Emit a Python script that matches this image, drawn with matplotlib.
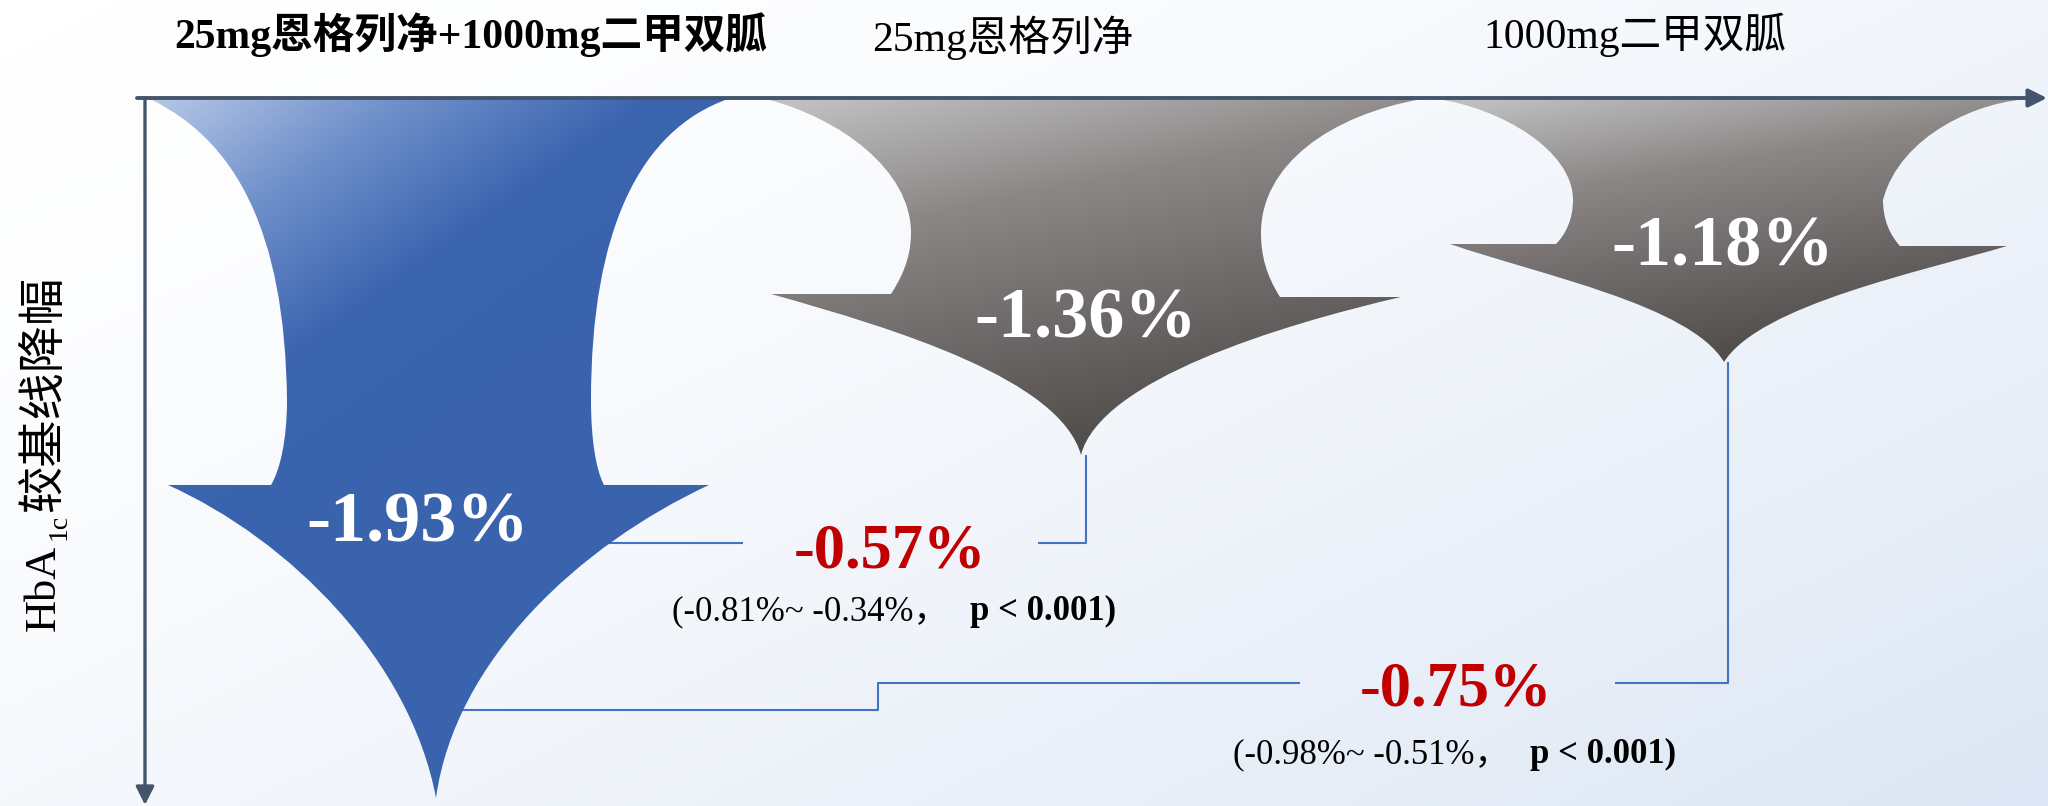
import matplotlib.pyplot as plt
import numpy as np
from matplotlib.path import Path
from matplotlib.patches import PathPatch
from matplotlib.colors import LinearSegmentedColormap

plt.rcParams['font.family'] = ['Liberation Serif', 'Noto Sans CJK SC']

# данные
groups = ['25mg恩格列净+1000mg二甲双胍', '25mg恩格列净', '1000mg二甲双胍']
hba1c_change = [-1.93, -1.36, -1.18]
diff_change = [-0.57, -0.75]
diff_ci_low = [-0.81, -0.98]
diff_ci_high = [-0.34, -0.51]
diff_p = ['p < 0.001', 'p < 0.001']
y_label_parts = ['HbA', '1c', '较基线降幅']

W, H = 2048, 806
axis_color = '#44546a'
line_color = '#4472c4'
red = '#c00000'

# layout: arrow outlines (bezier segments), pixel space, y down
arrow_shapes = [
    ((150, 99), [
        [(235, 140), (285, 230), (287, 400)],
        [(287, 440), (280, 470), (271, 485)],
        [(168, 485)],
        [(290, 540), (410, 660), (436, 798)],
        [(455, 660), (580, 545), (709, 485)],
        [(604, 485)],
        [(596, 470), (591, 440), (591, 400)],
        [(591, 230), (640, 130), (728, 99)],
    ]),
    ((766, 99), [
        [(840, 118), (911, 170), (911, 233)],
        [(911, 260), (900, 280), (891, 294)],
        [(771, 294)],
        [(900, 330), (1060, 380), (1081, 455)],
        [(1100, 380), (1280, 325), (1401, 297)],
        [(1280, 297)],
        [(1266, 275), (1261, 255), (1261, 233)],
        [(1261, 165), (1330, 115), (1422, 99)],
    ]),
    ((1437, 99), [
        [(1500, 108), (1573, 150), (1573, 200)],
        [(1573, 220), (1565, 235), (1556, 244)],
        [(1450, 244)],
        [(1540, 275), (1690, 305), (1724, 362)],
        [(1760, 305), (1920, 272), (2007, 246)],
        [(1900, 246)],
        [(1890, 235), (1883, 220), (1883, 200)],
        [(1900, 135), (1980, 100), (2032, 99)],
    ]),
]
arrow_cmaps = [
    LinearSegmentedColormap.from_list('blue', ['#b6c7e7', '#6f90ca', '#3c65b0', '#3a63ad']),
    LinearSegmentedColormap.from_list('gray', ['#c3c3c5', '#8b8786', '#6a6665', '#4a4644']),
    LinearSegmentedColormap.from_list('gray', ['#c3c3c5', '#8b8786', '#6a6665', '#4a4644']),
]
title_pos = [(471, 48), (1003, 51), (1635, 48)]
value_pos = [(418, 541), (1086, 338), (1723, 265)]
diff_pos = [(890, 568), (1456, 706)]
ci_pos = [(672, 620), (1233, 763)]
p_x = [970, 1530]
connectors = [
    [([600, 743], [543, 543]), ([1038, 1086, 1086], [543, 543, 455])],
    [([440, 878, 878, 1300], [710, 710, 683, 683]), ([1615, 1728, 1728], [683, 683, 362])],
]


def build_path(start, segs):
    verts = [start]
    codes = [Path.MOVETO]
    for seg in segs:
        verts.extend(seg)
        codes.extend([Path.LINETO] if len(seg) == 1 else [Path.CURVE4] * 3)
    verts.append(start)
    codes.append(Path.CLOSEPOLY)
    return Path(verts, codes)


fig = plt.figure(figsize=(W / 100, H / 100), dpi=100)
ax = fig.add_axes([0, 0, 1, 1])

# фон
gx, gy = np.meshgrid(np.linspace(0, 1, 400), np.linspace(0, 1, 160))
s = np.clip(0.55 * gx + 0.45 * gy, 0, 1) ** 1.6
bg_cmap = LinearSegmentedColormap.from_list('bg', ['#ffffff', '#dce6f4'])
ax.imshow(s, cmap=bg_cmap, vmin=0, vmax=1, extent=(0, W, H, 0),
          origin='upper', aspect='auto', zorder=0)

# соединительные линии
for pair in connectors:
    for xs, ys in pair:
        ax.plot(xs, ys, color=line_color, lw=1.5, zorder=1, solid_capstyle='butt')

# стрелки с градиентом
for i, (start, segs) in enumerate(arrow_shapes):
    path = build_path(start, segs)
    patch = PathPatch(path, facecolor='none', edgecolor='none')
    ax.add_patch(patch)
    x0, y0 = path.vertices.min(axis=0)
    x1, y1 = path.vertices.max(axis=0)
    X, Y = np.meshgrid(np.linspace(x0, x1, 300), np.linspace(y0, y1, 300))
    if i == 0:
        g = np.clip(((X - x0) + 1.4 * (Y - y0)) / 750, 0, 1)
    else:
        g = np.clip(0.8 * (Y - y0) / (y1 - y0) + 0.3 * (X - x0) / (x1 - x0), 0, 1)
    im = ax.imshow(g, cmap=arrow_cmaps[i], vmin=0, vmax=1, extent=(x0, x1, y1, y0),
                   origin='upper', aspect='auto', zorder=2)
    im.set_clip_path(patch)

# оси
ax.annotate('', xy=(2047, 98), xytext=(137, 98),
            arrowprops=dict(arrowstyle='-|>,head_length=0.5,head_width=0.25', color=axis_color,
                            lw=2.8, mutation_scale=22, shrinkA=0, shrinkB=0), zorder=3)
ax.annotate('', xy=(145, 805), xytext=(145, 98),
            arrowprops=dict(arrowstyle='-|>,head_length=0.5,head_width=0.25', color=axis_color,
                            lw=2.4, mutation_scale=22, shrinkA=0, shrinkB=0), zorder=3)

# заголовки групп
for i, name in enumerate(groups):
    ax.text(title_pos[i][0], title_pos[i][1], name, fontsize=30, ha='center', va='baseline',
            fontweight='bold' if i == 0 else 'normal', color='black', zorder=4)

# значения в стрелках
for i, v in enumerate(hba1c_change):
    ax.text(value_pos[i][0], value_pos[i][1], f'{v:.2f}%', fontsize=52, fontweight='bold',
            color='white', ha='center', va='baseline', zorder=4)

# разница между группами
for i, d in enumerate(diff_change):
    ax.text(diff_pos[i][0], diff_pos[i][1], f'{d:.2f}%', fontsize=45, fontweight='bold',
            color=red, ha='center', va='baseline', zorder=4)
    ax.text(ci_pos[i][0], ci_pos[i][1], f'({diff_ci_low[i]:.2f}%~ {diff_ci_high[i]:.2f}%，',
            fontsize=25, ha='left', va='baseline', color='black', zorder=4)
    ax.text(p_x[i], ci_pos[i][1], f'{diff_p[i]})', fontsize=25, fontweight='bold',
            ha='left', va='baseline', color='black', zorder=4)

# подпись оси Y
ax.text(55, 631, y_label_parts[0], fontsize=32, rotation=90, rotation_mode='anchor',
        ha='left', va='baseline', zorder=4)
ax.text(66, 540, y_label_parts[1], fontsize=20, rotation=90, rotation_mode='anchor',
        ha='left', va='baseline', zorder=4)
ax.text(57, 512, y_label_parts[2], fontsize=34, rotation=90, rotation_mode='anchor',
        ha='left', va='baseline', zorder=4)

ax.set_xlim(0, W)
ax.set_ylim(H, 0)
ax.axis('off')

fig.savefig('out.png', dpi=100)
print("График сохранен как out.png")
